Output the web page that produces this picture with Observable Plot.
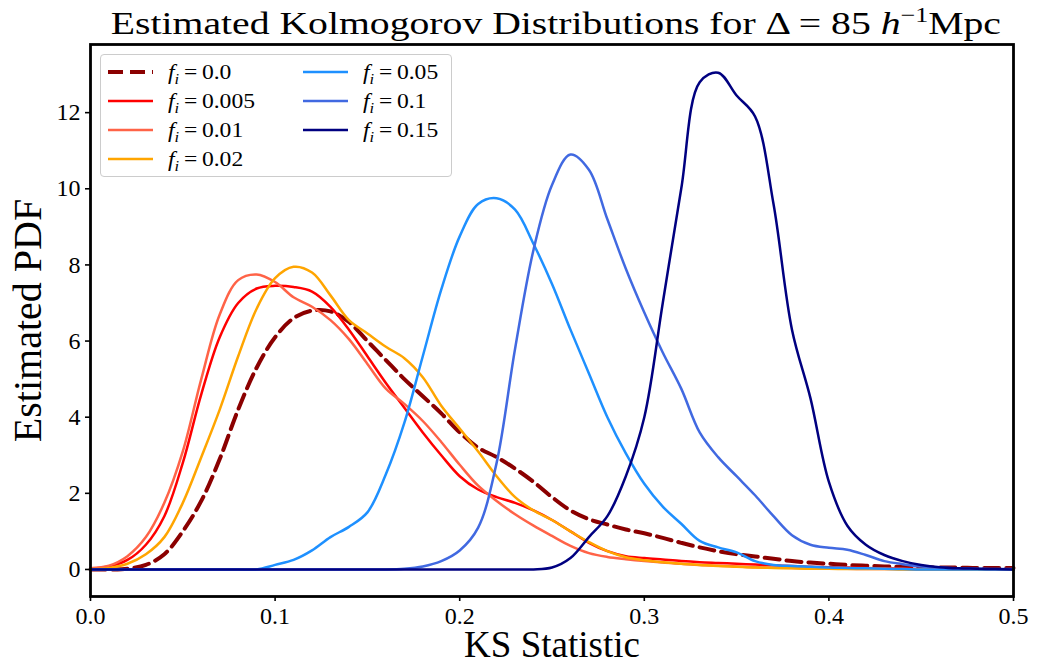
<!DOCTYPE html>
<html><head><meta charset="utf-8">
<script src="https://cdn.jsdelivr.net/npm/d3@7"></script>
<script src="https://cdn.jsdelivr.net/npm/@observablehq/plot@0.6"></script>
<style>
body{margin:0;background:#fff;font-family:'Liberation Serif','DejaVu Serif',serif;}
#wrap{position:relative;width:1037px;height:670px;overflow:hidden;}
#chart{position:absolute;left:0;top:0;}
#title{position:absolute;left:0;top:4px;width:1037px;text-align:center;color:#000;}
#title div{display:inline-block;font-family:'Liberation Serif',serif;font-size:32px;line-height:38px;transform:scaleX(1.24);transform-origin:center;margin-left:74px;}
#title sup{font-size:21px;vertical-align:12px;line-height:0;}
#legend{position:absolute;left:100px;top:54px;width:352px;height:123px;border:1.3px solid #ccc;border-radius:4px;background:rgba(255,255,255,0.85);box-sizing:border-box;}
.item{position:absolute;height:24px;font-family:'Liberation Serif',serif;font-size:20px;line-height:24px;white-space:nowrap;}
.item svg{position:absolute;left:0;top:0;}
.item span{position:absolute;left:61px;top:0;display:inline-block;transform:scaleX(1.18);transform-origin:left center;}
.item sub{font-size:14px;vertical-align:-5px;line-height:0;}
</style></head><body>
<div id="wrap"><div id="chart"></div>
<div id="title"><div>Estimated Kolmogorov Distributions for Δ = 85 <i>h</i><sup>−1</sup>Mpc</div></div>
<div id="legend"></div></div>
<script>
const xs = d3.range(0, 51).map(i => +(i * 0.01).toFixed(2));
const fLabels = ["0.0", "0.005", "0.01", "0.02", "0.05", "0.1", "0.15"];
const colors = ["#8b0000", "#ff0000", "#ff6347", "#ffa500", "#1e90ff", "#4169e1", "#000080"];
const f000 = [0,0,0.02,0.12,0.4,1.0,1.8,2.9,4.2,5.3,6.1,6.6,6.8,6.78,6.5,6.0,5.5,5.0,4.55,4.1,3.6,3.2,2.95,2.65,2.3,1.9,1.55,1.32,1.18,1.05,0.95,0.83,0.7,0.58,0.48,0.4,0.34,0.28,0.22,0.18,0.15,0.12,0.1,0.08,0.07,0.06,0.05,0.05,0.04,0.04,0.04];
const f005 = [0.03,0.08,0.25,0.65,1.4,2.8,4.6,6.1,7.0,7.38,7.45,7.42,7.3,6.9,6.3,5.6,4.9,4.25,3.6,3.0,2.45,2.1,1.9,1.75,1.55,1.3,1.0,0.7,0.48,0.35,0.3,0.26,0.22,0.19,0.17,0.15,0.13,0.11,0.09,0.07,0.06,0.05,0.04,0.03,0.02,0.01,0.01,0,0,0,0];
const f010 = [0.03,0.1,0.35,0.85,1.75,3.1,5.0,6.7,7.6,7.75,7.55,7.15,6.9,6.55,6.05,5.4,4.75,4.35,3.9,3.35,2.75,2.2,1.8,1.45,1.15,0.88,0.62,0.43,0.33,0.27,0.22,0.18,0.15,0.12,0.1,0.08,0.06,0.05,0.04,0.03,0.02,0.02,0.01,0.01,0.01,0,0,0,0,0,0];
const f020 = [0.01,0.04,0.15,0.4,0.85,1.75,2.95,4.2,5.6,6.85,7.65,7.95,7.8,7.2,6.55,6.2,5.85,5.55,5.05,4.3,3.7,3.1,2.45,1.9,1.55,1.3,1.0,0.72,0.48,0.32,0.24,0.19,0.15,0.12,0.09,0.07,0.05,0.04,0.03,0.02,0.02,0.01,0.01,0.01,0,0,0,0,0,0,0];
const f050 = [0,0,0,0,0,0,0,0,0,0,0.12,0.25,0.5,0.85,1.12,1.5,2.5,3.85,5.6,7.35,8.75,9.6,9.75,9.45,8.55,7.5,6.3,5.15,4.0,3.05,2.25,1.65,1.2,0.75,0.58,0.45,0.22,0.12,0.09,0.07,0.05,0.04,0.03,0.02,0.01,0,0,0,0,0,0];
const f100 = [0,0,0,0,0,0,0,0,0,0,0,0,0,0,0,0,0,0.02,0.08,0.22,0.5,1.1,2.8,5.8,8.4,10.1,10.9,10.5,9.2,7.9,6.75,5.7,4.75,3.6,2.95,2.45,1.95,1.4,0.9,0.65,0.57,0.52,0.38,0.22,0.14,0.08,0.05,0.03,0.02,0.01,0.01];
const f150 = [0,0,0,0,0,0,0,0,0,0,0,0,0,0,0,0,0,0,0,0,0,0,0,0,0,0.05,0.3,0.85,1.4,2.45,4.0,7.0,10.0,12.8,13.05,12.45,11.9,9.6,6.3,4.5,2.3,1.15,0.65,0.38,0.22,0.12,0.06,0.03,0.02,0.01,0];
const series = [f000, f005, f010, f020, f050, f100, f150];
const xTicks = [0, 0.1, 0.2, 0.3, 0.4, 0.5];
const yTicks = [0, 2, 4, 6, 8, 10, 12];

const FONT = "'Liberation Serif', 'DejaVu Serif', serif";
const rows = series.map(v => xs.map((x, i) => ({x, y: v[i]})));
const lineMarks = rows.map((r, k) => Plot.line(r, {
  x: "x", y: "y", stroke: colors[k], curve: "catmull-rom",
  strokeWidth: k === 0 ? 4 : 2.5,
  strokeDasharray: k === 0 ? "15,7" : null
}));
const chart = Plot.plot({
  width: 1037, height: 670,
  marginLeft: 90, marginRight: 24, marginTop: 44, marginBottom: 74,
  style: {fontFamily: FONT, background: "#fff", color: "#000"},
  x: {domain: [0, 0.5]},
  y: {domain: [-0.71, 13.79]},
  marks: [
    ...lineMarks,
    Plot.axisX({ticks: xTicks, tickFormat: d3.format(".1f"), tickSize: 5, tickPadding: 5, fontSize: 24, label: null, strokeWidth: 1.6}),
    Plot.axisY({ticks: yTicks, tickFormat: d3.format("d"), tickSize: 5, tickPadding: 5, fontSize: 24, label: null, strokeWidth: 1.6}),
    Plot.frame({stroke: "#000", strokeWidth: 2.8}),
    Plot.text(["KS Statistic"], {frameAnchor: "bottom", textAnchor: "middle", dy: 60, fontSize: 37, fontFamily: FONT}),
    Plot.text(["Estimated PDF"], {frameAnchor: "left", textAnchor: "middle", rotate: -90, dx: -62, fontSize: 40, fontFamily: FONT})
  ]
});
d3.select(chart).selectAll("text").style("font-family", FONT);
d3.select(chart).selectAll("g[aria-label$='tick label']").style("font-size", "24px");
document.getElementById("chart").appendChild(chart);

const legend = document.getElementById("legend");
const pos = [[6, 5], [6, 34], [6, 63], [6, 92], [201, 5], [201, 34], [201, 63]];
fLabels.forEach((lab, k) => {
  const d = document.createElement("div");
  d.className = "item";
  d.style.left = pos[k][0] + "px";
  d.style.top = pos[k][1] + "px";
  const dash = k === 0 ? 'stroke-dasharray="15,7"' : "";
  const sw = k === 0 ? 4 : 2.5;
  d.innerHTML = `<svg width="50" height="24"><line x1="1" x2="46" y1="12" y2="12" stroke="${colors[k]}" stroke-width="${sw}" ${dash}/></svg><span><i>f</i><sub><i>i</i></sub>&thinsp;=&thinsp;${lab}</span>`;
  legend.appendChild(d);
});
</script></body></html>
